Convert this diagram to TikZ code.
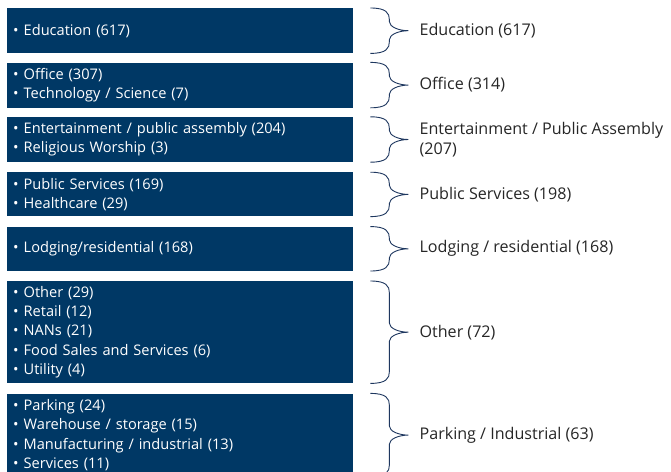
\documentclass[tikz,border=0pt]{standalone}
\usepackage{fontspec}
\setmainfont{Open Sans}
\usetikzlibrary{positioning, calc}
\definecolor{CatNavy}{RGB}{0,56,101}
\definecolor{BraceBlue}{RGB}{30,55,95}
\definecolor{LabelGrey}{RGB}{38,38,38}

\tikzset{
  catbox/.style={fill=CatNavy, text=white, text width=334pt, align=left,
    inner xsep=6pt, inner ysep=2pt, font=\fontsize{14.6}{19.3}\selectfont},
  bracepath/.style={draw=BraceBlue, line width=0.9pt},
  grouplabel/.style={text=LabelGrey, align=left, inner sep=0pt,
    font=\fontsize{16.1}{20}\selectfont}
}
\newcommand\itm{\textbullet\hspace{5pt}}
% curly brace to the right of a box, with the group name at its tip
\newcommand\groupbrace[2]{%
  \path ([xshift=17pt]#1.north east) coordinate (#1-top)
        ([xshift=17pt]#1.south east) coordinate (#1-bot)
        ([xshift=55pt]#1.east) coordinate (#1-tip);
  \draw[bracepath] (#1-top) .. controls +(16,0) and +(0,-7) .. ($(#1-top)+(19,12)$)
    -- ($(#1-tip)+(-19,-9)$) .. controls +(0,5) and +(-10,0) .. (#1-tip)
    .. controls +(-10,0) and +(0,-5) .. ($(#1-tip)+(-19,9)$)
    -- ($(#1-bot)+(19,-12)$) .. controls +(0,7) and +(16,0) .. (#1-bot);
  \node[grouplabel, right=11pt of #1-tip] (#1-label) {#2};
}

\begin{document}
\begin{tikzpicture}[x=1pt, y=-1pt]
  \useasboundingbox (0,0) rectangle (671,471);
  \clip (0,0) rectangle (671,471);
  \fill[white] (0,0) rectangle (671,471);

  % building types
  \node[catbox, anchor=north west, minimum height=45pt] (edu) at (7,8)
    {\itm Education (617)};
  \node[catbox, minimum height=45pt, below=9pt of edu] (office)
    {\itm Office (307)\\\itm Technology / Science (7)};
  \node[catbox, minimum height=45pt, below=9pt of office] (assembly)
    {\itm Entertainment / public assembly (204)\\\itm Religious Worship (3)};
  \node[catbox, minimum height=44pt, below=10pt of assembly] (public)
    {\itm Public Services (169)\\\itm Healthcare (29)};
  \node[catbox, minimum height=44pt, below=10pt of public] (lodging)
    {\itm Lodging/residential (168)};
  \node[catbox, minimum height=102pt, below=10pt of lodging] (other)
    {\itm Other (29)\\\itm Retail (12)\\\itm NANs (21)\\
     \itm Food Sales and Services (6)\\\itm Utility (4)};
  \node[catbox, minimum height=83pt, below=10pt of other] (parking)
    {\itm Parking (24)\\\itm Warehouse / storage (15)\\
     \itm Manufacturing / industrial (13)\\\itm Services (11)};

  % grouped categories
  \groupbrace{edu}{Education (617)}
  \groupbrace{office}{Office (314)}
  \groupbrace{assembly}{Entertainment / Public Assembly\\(207)}
  \groupbrace{public}{Public Services (198)}
  \groupbrace{lodging}{Lodging / residential (168)}
  \groupbrace{other}{Other (72)}
  \groupbrace{parking}{Parking / Industrial (63)}
\end{tikzpicture}
\end{document}
